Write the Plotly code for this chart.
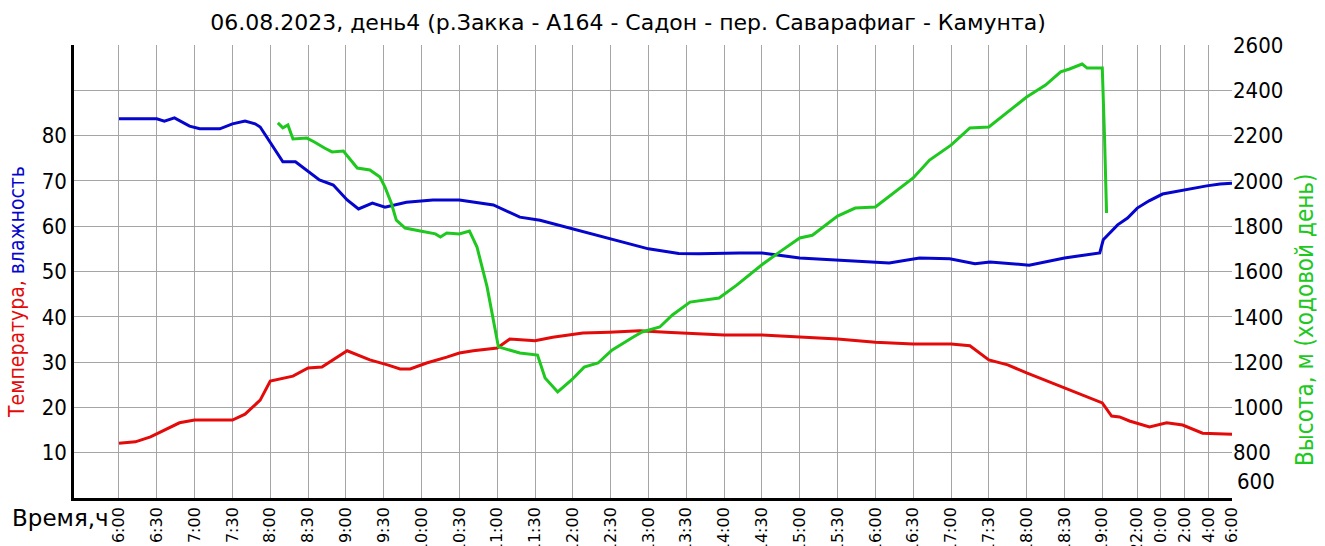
import numpy as np
import plotly.graph_objects as go

# ---- data -------------------------------------------------------------
TITLE = "06.08.2023, день4 (р.Закка - A164 - Садон - пер. Саварафиаг - Камунта)"

TICK_LABELS = [
    "6:00", "6:30", "7:00", "7:30", "8:00", "8:30", "9:00", "9:30",
    "10:00", "10:30", "11:00", "11:30", "12:00", "12:30", "13:00", "13:30",
    "14:00", "14:30", "15:00", "15:30", "16:00", "16:30", "17:00", "17:30",
    "18:00", "18:30", "19:00", "22:00", "0:00", "2:00", "4:00", "6:00",
]

HUM_TIME = [
    "6:00", "6:30", "6:36", "6:44", "6:56", "7:04", "7:20", "7:30", "7:40", "7:48",
    "7:52", "8:10", "8:20", "8:39", "8:50", "9:01", "9:10", "9:21", "9:31", "9:48",
    "10:09", "10:30", "10:57", "11:18", "11:34", "12:00", "12:30", "13:00", "13:24", "13:40",
    "14:12", "14:30", "15:00", "15:30", "15:56", "16:11", "16:35", "16:59", "17:19", "17:31",
    "18:02", "18:30", "18:58", "19:05", "20:19", "21:10", "22:00", "23:00", "0:08", "1:30",
    "2:41", "3:52", "5:00", "6:00",
]
HUM = [
    83.7, 83.7, 83.2, 83.9, 82.1, 81.5, 81.5, 82.6, 83.2, 82.6,
    81.9, 74.2, 74.2, 70.2, 69.1, 65.8, 63.8, 65.1, 64.2, 65.3,
    65.8, 65.8, 64.7, 62.0, 61.3, 59.4, 57.3, 55.0, 54.0, 53.9,
    54.1, 54.1, 53.0, 52.5, 52.1, 51.9, 53.0, 52.8, 51.7, 52.1,
    51.4, 53.0, 54.1, 57.0, 60.3, 61.8, 64.0, 65.6, 67.1, 67.8,
    68.4, 68.9, 69.3, 69.5,
]

TEMP_TIME = [
    "6:00", "6:13", "6:25", "6:36", "6:48", "7:00", "7:30", "7:40", "7:52", "8:00",
    "8:18", "8:30", "8:41", "9:01", "9:19", "9:33", "9:43", "9:51", "10:04", "10:20",
    "10:30", "10:41", "10:57", "11:00", "11:10", "11:30", "11:44", "12:08", "12:29", "12:53",
    "13:14", "13:38", "14:00", "14:30", "15:00", "15:30", "16:00", "16:30", "17:00", "17:15",
    "17:30", "17:45", "18:00", "18:30", "19:00", "19:48", "20:29", "21:20", "23:02", "0:29",
    "1:50", "3:31", "6:00",
]
TEMP = [
    12.1, 12.4, 13.5, 15.0, 16.6, 17.2, 17.2, 18.5, 21.6, 25.8,
    26.9, 28.7, 28.9, 32.5, 30.5, 29.4, 28.5, 28.5, 29.8, 31.1,
    32.0, 32.5, 32.9, 33.1, 35.1, 34.7, 35.5, 36.4, 36.6, 36.9,
    36.6, 36.2, 36.0, 36.0, 35.5, 35.1, 34.4, 34.0, 34.0, 33.6,
    30.5, 29.4, 27.6, 24.3, 21.0, 18.1, 17.9, 17.0, 15.7, 16.6,
    16.1, 14.3, 14.1,
]

ALT_TIME = [
    "8:06", "8:10", "8:14", "8:18", "8:29", "8:35", "8:43", "8:49", "8:58", "9:03",
    "9:09", "9:19", "9:27", "9:31", "9:36", "9:40", "9:47", "9:59", "10:11", "10:15",
    "10:20", "10:30", "10:38", "10:44", "10:52", "10:58", "11:01", "11:18", "11:32", "11:38",
    "11:48", "11:59", "12:09", "12:20", "12:31", "12:48", "12:55", "13:09", "13:19", "13:33",
    "13:56", "14:10", "14:30", "14:45", "15:00", "15:10", "15:30", "15:44", "16:00", "16:30",
    "16:43", "17:00", "17:15", "17:30", "18:00", "18:15", "18:27", "18:34", "18:44", "18:48",
    "19:00", "19:12", "19:22",
]
ALT = [
    2256, 2234, 2247, 2185, 2189, 2172, 2145, 2128, 2132, 2097,
    2057, 2048, 2017, 1973, 1902, 1827, 1792, 1779, 1766, 1752,
    1770, 1766, 1779, 1708, 1532, 1355, 1267, 1240, 1231, 1130,
    1068, 1121, 1178, 1196, 1253, 1311, 1333, 1355, 1408, 1465,
    1483, 1540, 1630, 1690, 1748, 1760, 1845, 1880, 1885, 2013,
    2092, 2158, 2234, 2238, 2370, 2423, 2481, 2494, 2516, 2498,
    2498, 2181, 1858,
]

# ---- time scale -------------------------------------------------------
# Daytime runs at one slot per 30 min; the night after 19:00 is compressed.
SCALE_HOURS = [6.0, 19.0, 22.0, 30.0]
SCALE_SLOTS = [0.0, 26.0, 26.925, 29.43]


def clock_hours(labels):
    """'H:MM' strings -> continuous hours, rolling past midnight."""
    out, prev = [], None
    for s in labels:
        h, m = s.split(":")
        v = int(h) + int(m) / 60.0
        if prev is not None:
            while v < prev - 1e-9:
                v += 24.0
        out.append(v)
        prev = v
    return np.array(out)


def to_axis(hours):
    return np.interp(hours, SCALE_HOURS, SCALE_SLOTS)


tick_pos = to_axis(clock_hours(TICK_LABELS))

# ---- styling ----------------------------------------------------------
FONT = "DejaVu Sans Condensed, Liberation Sans Narrow, sans-serif"
WIDE = "DejaVu Sans, sans-serif"
RED = "rgb(228,10,10)"
BLUE = "rgb(5,5,205)"
GREEN = "rgb(30,200,30)"
GRID = "rgb(165,165,165)"

W, H = 1325, 546
ML, MR, MT, MB = 74, 93, 45, 48
PW, PH = W - ML - MR, H - MT - MB

fig = go.Figure()

fig.add_trace(go.Scatter(
    x=to_axis(clock_hours(HUM_TIME)), y=HUM, mode="lines",
    line=dict(color=BLUE, width=3), yaxis="y", showlegend=False,
))
fig.add_trace(go.Scatter(
    x=to_axis(clock_hours(TEMP_TIME)), y=TEMP, mode="lines",
    line=dict(color=RED, width=3), yaxis="y", showlegend=False,
))
fig.add_trace(go.Scatter(
    x=to_axis(clock_hours(ALT_TIME)), y=ALT, mode="lines",
    line=dict(color=GREEN, width=3), yaxis="y2", showlegend=False,
))

left_vals = list(range(0, 101, 10))
left_text = [str(v) if 10 <= v <= 80 else "" for v in left_vals]
right_vals = list(range(600, 2601, 200))
right_text = ["" if v == 600 else str(v) for v in right_vals]

x_left = tick_pos[0] - (119 - ML) / 37.83

fig.update_layout(
    width=W, height=H,
    margin=dict(l=ML, r=MR, t=MT, b=MB, autoexpand=False),
    paper_bgcolor="white", plot_bgcolor="white",
    font=dict(family=FONT, color="black"),
    title=dict(
        text=TITLE, x=628 / W, xanchor="center", y=1 - 22 / H, yanchor="middle",
        font=dict(family=WIDE, size=22, color="black"),
    ),
    xaxis=dict(
        range=[x_left, tick_pos[-1]], tickmode="array", tickvals=tick_pos,
        ticktext=TICK_LABELS, tickangle=-90, ticks="", showgrid=True,
        gridcolor=GRID, gridwidth=1, zeroline=False, showline=True,
        linecolor="black", linewidth=2.5, automargin=False,
        tickfont=dict(family=WIDE, size=16, color="black"),
    ),
    yaxis=dict(
        range=[0, 100], tickmode="array", tickvals=left_vals, ticktext=left_text,
        ticks="", showgrid=True, gridcolor=GRID, gridwidth=1, zeroline=False,
        showline=True, linecolor="black", linewidth=2.5, automargin=False,
        tickfont=dict(family=FONT, size=22, color="black"),
    ),
    yaxis2=dict(
        range=[600, 2600], overlaying="y", side="right", tickmode="array",
        tickvals=right_vals, ticktext=right_text, ticks="", showgrid=False,
        zeroline=False, showline=False, automargin=False,
        tickfont=dict(family=FONT, size=22, color="black"),
    ),
    annotations=[
        dict(
            text="Время,ч", xref="paper", yref="paper",
            x=(10 - ML) / PW, y=(H - MB - 518) / PH, xanchor="left", yanchor="middle",
            showarrow=False, font=dict(family=WIDE, size=23, color="black"),
        ),
        dict(
            text="600", xref="paper", yref="paper",
            x=(1235 - ML) / PW, y=(H - MB - 496) / PH, xanchor="left", yanchor="bottom",
            showarrow=False, font=dict(family=FONT, size=22, color="black"),
        ),
        dict(
            text=f"<span style='color:{RED}'>Температура,</span> "
                 f"<span style='color:{BLUE}'>влажность</span>",
            xref="paper", yref="paper", x=(17 - ML) / PW, y=(H - MB - 292) / PH,
            xanchor="center", yanchor="middle", textangle=-90, showarrow=False,
            font=dict(family=FONT, size=21),
        ),
        dict(
            text="Высота, м (ходовой день)", xref="paper", yref="paper",
            x=(1305 - ML) / PW, y=(H - MB - 320) / PH, xanchor="center", yanchor="middle",
            textangle=-90, showarrow=False, font=dict(family=FONT, size=24, color=GREEN),
        ),
    ],
)

fig.write_html("out.html")
